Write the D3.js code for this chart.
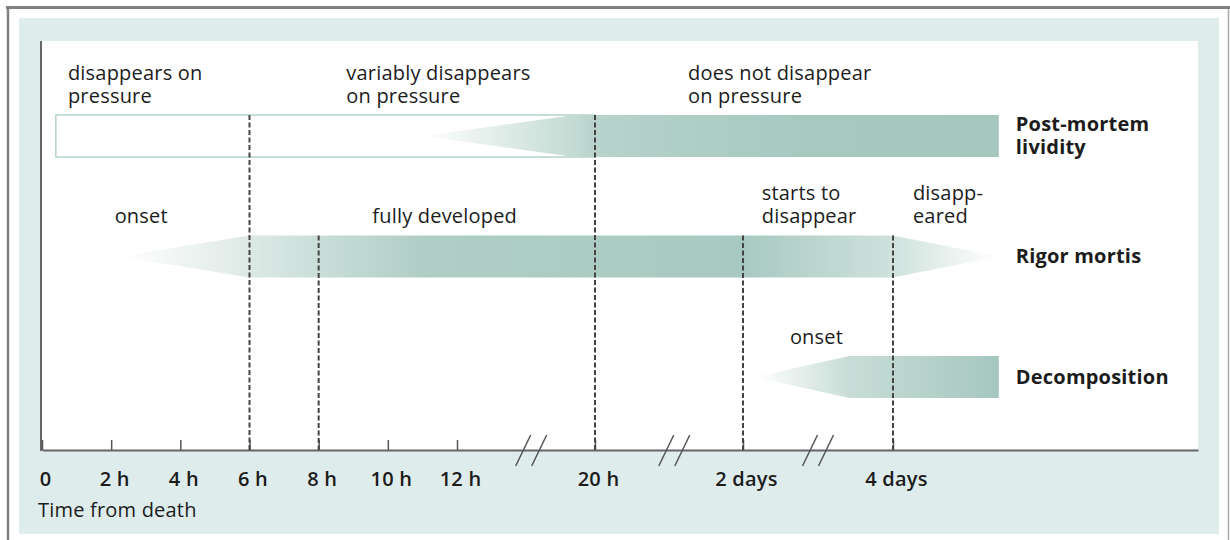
<!DOCTYPE html>
<html>
<head>
<meta charset="utf-8">
<script src="https://cdn.jsdelivr.net/npm/d3@7"></script>
<style>
  body { margin: 0; background: #fff; }
  svg text { font-family: "Open Sans", sans-serif; fill: #1c1c1c; font-size: 20px; font-weight: 500; letter-spacing: 0.2px; }
  .row-label { font-weight: 700; }
  .axis text { font-weight: 600; }
</style>
</head>
<body>
<svg width="1230" height="540"></svg>
<script>
// Time axis (hours from death) and its labels.
var tickHours = [0, 2, 4, 6, 8, 10, 12, 20, 48, 96];
var tickLabels = ["0", "2 h", "4 h", "6 h", "8 h", "10 h", "12 h", "20 h", "2 days", "4 days"];
var breakHours = [16.3, 35, 72];

// Rows and the shape of each band (hours): fade in, fully on, fully off, fade out.
var rows = ["Post-mortem lividity", "Rigor mortis", "Decomposition"];
var rowLabelLines = [["Post-mortem", "lividity"], ["Rigor mortis"], ["Decomposition"]];
var fadeStart = [11, 2.25, 52];
var fullStart = [18.8, 6, 82];
var fullEnd = [130, 96, 130];
var fadeEnd = [130, 130, 130];

// Lividity "disappears on pressure" outline.
var outlineHours = [0.4, 20];

// Dashed markers: hour and the row they start from.
var markerHours = [6, 8, 20, 48, 96];
var markerRow = [0, 1, 0, 1, 1];

// Phase labels above each band.
var phaseRow = [0, 0, 0, 1, 1, 1, 1, 2];
var phaseHours = [0.75, 8.8, 37.6, 2.1, 9.55, 54, 102.4, 63];
var phaseLines = [
  ["disappears on", "pressure"],
  ["variably disappears", "on pressure"],
  ["does not disappear", "on pressure"],
  ["onset"],
  ["fully developed"],
  ["starts to", "disappear"],
  ["disapp-", "eared"],
  ["onset"]
];

// Colour along each band (hour, colour).
var bandStops = [
  [[11, "#ffffff"], [18.8, "#c3dbd4"], [20, "#b7d3cc"], [40, "#adcdc5"], [80, "#a6c8bf"], [130, "#a5c7be"]],
  [[2.25, "#ffffff"], [6, "#dde9e6"], [8, "#c9ded9"], [11, "#b0cec6"], [48, "#a8c9c1"], [96, "#cfe2dd"], [130, "#ffffff"]],
  [[52, "#ffffff"], [82, "#c8ddd7"], [130, "#a5c7bf"]]
];

var svg = d3.select("svg");

// Broken time scale: piecewise linear.
var x = d3.scaleLinear()
    .domain([0, 12, 20, 48, 96, 194])
    .range([42, 457, 595, 743, 893, 1198]);

var y = d3.scalePoint().domain(rows).range([136, 377]);
var half = 21;
var axisY = 450;

// Frame and panel.
svg.append("rect").attr("x", 19).attr("y", 18).attr("width", 1200).attr("height", 516).attr("fill", "#dfecec");
svg.append("rect").attr("x", 42).attr("y", 41).attr("width", 1156).attr("height", axisY - 41).attr("fill", "#fff");
svg.append("line").attr("x1", 6).attr("x2", 1230).attr("y1", 7.5).attr("y2", 7.5).attr("stroke", "#808080").attr("stroke-width", 3);
svg.append("line").attr("x1", 8).attr("x2", 8).attr("y1", 6).attr("y2", 540).attr("stroke", "#808080").attr("stroke-width", 2.5);
svg.append("line").attr("x1", 1228.5).attr("x2", 1228.5).attr("y1", 9).attr("y2", 540).attr("stroke", "#a8a8a8").attr("stroke-width", 1.5);

// Gradients for the bands.
var defs = svg.append("defs");
rows.forEach(function(r, i) {
  var x0 = x(bandStops[i][0][0]), x1 = x(bandStops[i][bandStops[i].length - 1][0]);
  var g = defs.append("linearGradient")
      .attr("id", "band" + i)
      .attr("gradientUnits", "userSpaceOnUse")
      .attr("x1", x0).attr("x2", x1).attr("y1", 0).attr("y2", 0);
  g.selectAll("stop")
    .data(bandStops[i])
    .enter().append("stop")
      .attr("offset", function(d) { return (x(d[0]) - x0) / (x1 - x0); })
      .attr("stop-color", function(d) { return d[1]; });
});

// Lividity outline box.
svg.append("rect")
    .attr("x", x(outlineHours[0]))
    .attr("y", y(rows[0]) - half)
    .attr("width", x(outlineHours[1]) - x(outlineHours[0]))
    .attr("height", half * 2)
    .attr("fill", "#fff")
    .attr("stroke", "#a9cdc4")
    .attr("stroke-width", 1.3);

// Bands.
svg.append("g").selectAll("path")
  .data(rows)
  .enter().append("path")
    .attr("fill", function(d, i) { return "url(#band" + i + ")"; })
    .attr("d", function(d, i) {
      var cy = y(d), top = cy - half, bot = cy + half;
      return d3.line()([
        [x(fadeStart[i]), cy],
        [x(fullStart[i]), top],
        [x(fullEnd[i]), top],
        [x(fadeEnd[i]), cy],
        [x(fullEnd[i]), bot],
        [x(fullStart[i]), bot]
      ]) + "Z";
    });

// Axis.
var axis = svg.append("g")
    .attr("class", "axis")
    .attr("transform", "translate(0," + axisY + ")")
    .call(d3.axisBottom(x)
      .tickValues(tickHours)
      .tickFormat(function(d, i) { return tickLabels[i]; })
      .tickSizeInner(-10)
      .tickSizeOuter(0)
      .tickPadding(22));
axis.select(".domain").attr("stroke", "#666").attr("stroke-width", 2);
axis.selectAll(".tick line").attr("stroke", "#555").attr("stroke-width", 1.5);
axis.selectAll(".tick text").attr("fill", "#1c1c1c").attr("font-size", null).attr("font-family", null).attr("dx", 3);

svg.append("line")
    .attr("x1", 41).attr("x2", 41).attr("y1", 41).attr("y2", axisY + 1)
    .attr("stroke", "#666").attr("stroke-width", 2);

// Break marks on the axis.
var br = svg.append("g").selectAll("g")
  .data(breakHours)
  .enter().append("g")
    .attr("transform", function(d) { return "translate(" + x(d) + "," + axisY + ")"; });
[-8, 8].forEach(function(off) {
  br.append("line")
      .attr("x1", off - 7.5).attr("y1", 16)
      .attr("x2", off + 7.5).attr("y2", -15)
      .attr("stroke", "#555").attr("stroke-width", 1.5);
});

// Dashed markers.
svg.append("g").selectAll("line")
  .data(markerHours)
  .enter().append("line")
    .attr("x1", function(d) { return x(d); })
    .attr("x2", function(d) { return x(d); })
    .attr("y1", function(d, i) { return y(rows[markerRow[i]]) - half; })
    .attr("y2", axisY)
    .attr("stroke", "#444")
    .attr("stroke-width", 2)
    .attr("stroke-dasharray", "5,2.5");

// Phase labels.
var lineGap = 23;
var phase = svg.append("g").selectAll("text")
  .data(phaseLines)
  .enter().append("text")
    .attr("x", function(d, i) { return x(phaseHours[i]); })
    .attr("y", function(d, i) { return y(rows[phaseRow[i]]) - 33.5 - (d.length - 1) * lineGap; });
phase.selectAll("tspan")
  .data(function(d) { return d; })
  .enter().append("tspan")
    .attr("x", function() { return this.parentNode.getAttribute("x"); })
    .attr("dy", function(d, j) { return j ? lineGap : 0; })
    .text(function(d) { return d; });

// Row labels.
var rl = svg.append("g").selectAll("text")
  .data(rowLabelLines)
  .enter().append("text")
    .attr("class", "row-label")
    .attr("x", x(130) + 17)
    .attr("y", function(d, i) { return y(rows[i]) + 6.5 - (d.length - 1) * 11.5; });
rl.selectAll("tspan")
  .data(function(d) { return d; })
  .enter().append("tspan")
    .attr("x", x(130) + 17)
    .attr("dy", function(d, j) { return j ? 23 : 0; })
    .text(function(d) { return d; });

svg.append("text")
    .attr("x", 38)
    .attr("y", 517)
    .text("Time from death");
</script>
</body>
</html>
